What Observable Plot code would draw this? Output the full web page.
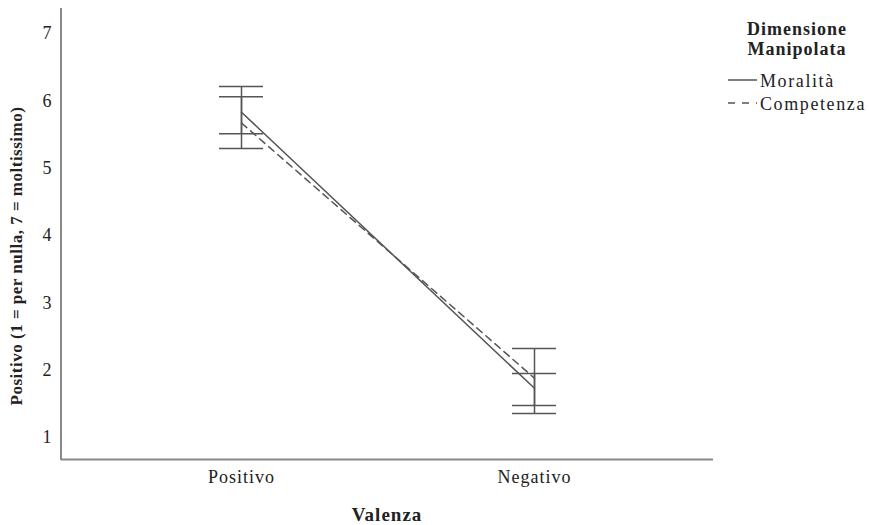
<!DOCTYPE html>
<html><head><meta charset="utf-8">
<script src="https://cdn.jsdelivr.net/npm/d3@7"></script>
<script src="https://cdn.jsdelivr.net/npm/@observablehq/plot@0.6"></script>
<style>body{margin:0;background:#fff} svg{font-family:"Liberation Serif",serif}</style>
</head><body><div id="chart"></div>
<script>
const valence = ["Positivo", "Negativo"];
const series = ["Moralità", "Competenza"];
const yTicks = [1, 2, 3, 4, 5, 6, 7];
const moralitaMean = [5.83, 1.73];
const moralitaLo = [5.51, 1.475];
const moralitaHi = [6.21, 1.95];
const competenzaMean = [5.67, 1.88];
const competenzaLo = [5.29, 1.356];
const competenzaHi = [6.06, 2.32];

const means = [moralitaMean, competenzaMean];
const los = [moralitaLo, competenzaLo];
const his = [moralitaHi, competenzaHi];
const rows = [];
series.forEach((s, si) => valence.forEach((v, vi) =>
  rows.push({series: s, valence: v, mean: means[si][vi], lo: los[si][vi], hi: his[si][vi]})));

const ink = "#555";
const yMin = 0.673, yMax = 7.37;

const leftLine = (index, scales, values, dims) => {
  const l = document.createElementNS("http://www.w3.org/2000/svg", "line");
  l.setAttribute("x1", dims.marginLeft); l.setAttribute("x2", dims.marginLeft);
  l.setAttribute("y1", dims.marginTop); l.setAttribute("y2", dims.height - dims.marginBottom + 1);
  l.setAttribute("stroke", "#888"); l.setAttribute("stroke-width", 2);
  return l;
};

const plot = Plot.plot({
  width: 869, height: 525,
  marginLeft: 61, marginRight: 156, marginTop: 8, marginBottom: 66,
  style: {fontFamily: "Liberation Serif", fontSize: "18px", color: "#222", background: "#fff", letterSpacing: "1px"},
  x: {type: "band", domain: valence, paddingInner: 0.85, paddingOuter: 0.536, label: null},
  y: {domain: [yMin, yMax], label: null},
  marks: [
    Plot.axisY({ticks: yTicks, tickFormat: d => String(d), tickSize: 0, tickPadding: 9, label: null, fontSize: 18}),
    Plot.axisX({tickSize: 0, tickPadding: 11, label: null, fontSize: 18}),
    Plot.ruleX(rows, {x: "valence", y1: "lo", y2: "hi", stroke: ink, strokeWidth: 1.5}),
    Plot.tickY(rows, {x: "valence", y: "lo", stroke: ink, strokeWidth: 1.5}),
    Plot.tickY(rows, {x: "valence", y: "hi", stroke: ink, strokeWidth: 1.5}),
    Plot.line(rows.filter(d => d.series === series[0]), {x: "valence", y: "mean", stroke: ink, strokeWidth: 1.5}),
    Plot.line(rows.filter(d => d.series === series[1]), {x: "valence", y: "mean", stroke: ink, strokeWidth: 1.5, strokeDasharray: "7,5"}),
    Plot.ruleY([yMin], {stroke: "#888", strokeWidth: 2}),
    leftLine
  ]
});

const svg = d3.select(plot);
svg.append("text").attr("transform", "translate(22,256) rotate(-90)")
  .attr("text-anchor", "middle").attr("font-weight", "bold").attr("font-size", 17)
  .attr("letter-spacing", "0.5px")
  .attr("fill", "#222").text("Positivo (1 = per nulla, 7 = moltissimo)");
svg.append("text").attr("x", 387).attr("y", 521)
  .attr("text-anchor", "middle").attr("font-weight", "bold").attr("font-size", 19)
  .attr("fill", "#222").text("Valenza");
const lg = svg.append("g").attr("fill", "#222");
lg.append("text").attr("x", 797).attr("y", 35).attr("text-anchor", "middle").attr("font-weight", "bold").attr("font-size", 18).text("Dimensione");
lg.append("text").attr("x", 797).attr("y", 55).attr("text-anchor", "middle").attr("font-weight", "bold").attr("font-size", 18).text("Manipolata");
lg.append("line").attr("x1", 728).attr("x2", 757).attr("y1", 80).attr("y2", 80).attr("stroke", ink).attr("stroke-width", 1.5);
lg.append("line").attr("x1", 728).attr("x2", 757).attr("y1", 103).attr("y2", 103).attr("stroke", ink).attr("stroke-width", 1.5).attr("stroke-dasharray", "7,7");
lg.append("text").attr("x", 760).attr("y", 87).attr("text-anchor", "start").attr("font-size", 18).attr("letter-spacing", "1.6px").text(series[0]);
lg.append("text").attr("x", 760).attr("y", 110).attr("text-anchor", "start").attr("font-size", 18).attr("letter-spacing", "1.6px").text(series[1]);

document.getElementById("chart").appendChild(plot);
</script></body></html>
